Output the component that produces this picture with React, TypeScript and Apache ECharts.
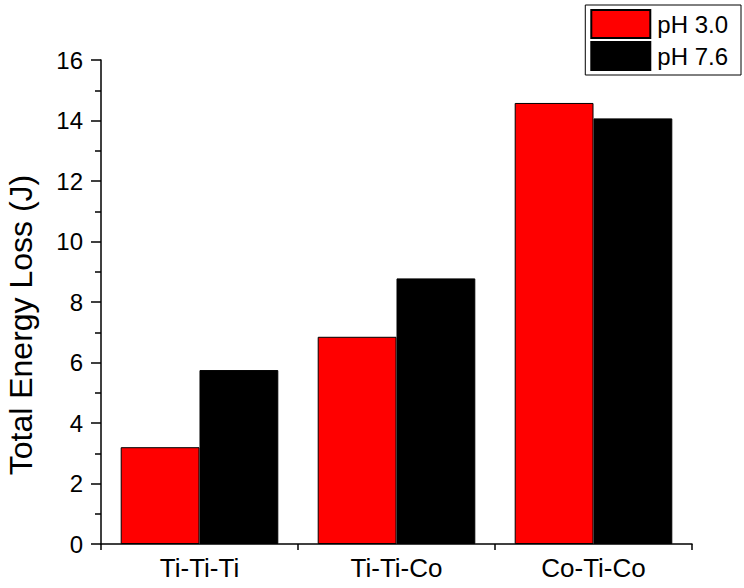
import React, { useEffect, useRef } from "react";
import * as echarts from "echarts";

const categories = ["Ti-Ti-Ti", "Ti-Ti-Co", "Co-Ti-Co"];
const seriesNames = ["pH 3.0", "pH 7.6"];
const ph30 = [3.2, 6.85, 14.58];
const ph76 = [5.75, 8.78, 14.07];
const yTicks = { min: 0, max: 16, interval: 2 };
const yTitle = "Total Energy Loss (J)";

const FONT = "'Liberation Sans', Arial, sans-serif";

export default function App() {
  const ref = useRef<HTMLDivElement>(null);
  useEffect(() => {
    if (!ref.current) return;
    const chart = echarts.init(ref.current, null, { renderer: "svg" });
    chart.setOption({
      animation: false,
      backgroundColor: "#ffffff",
      textStyle: { fontFamily: FONT },
      grid: { left: 101, right: 52, top: 60, bottom: 44, containLabel: false, outerBoundsMode: "none" },
      legend: {
        orient: "vertical",
        right: 3,
        top: 5,
        padding: [4, 13, 4, 5],
        itemGap: 2,
        itemWidth: 59,
        itemHeight: 28,
        borderColor: "#000",
        borderWidth: 1,
        icon: "rect",
        textStyle: { fontSize: 24, color: "#000", fontFamily: FONT, padding: [0, 0, 0, 2] },
        data: seriesNames,
      },
      xAxis: [
        {
          type: "category",
          data: categories,
          position: "bottom",
          axisLine: { lineStyle: { color: "#000", width: 1.5 } },
          axisTick: { alignWithLabel: true, length: 9, lineStyle: { color: "#000", width: 1.5 } },
          axisLabel: { fontSize: 26, color: "#000", margin: 11, fontFamily: FONT },
          splitLine: { show: false },
        },
        {
          type: "category",
          data: categories,
          position: "bottom",
          axisLine: { show: false },
          axisTick: { show: true, length: 6, lineStyle: { color: "#000", width: 1.5 } },
          axisLabel: { show: false },
          splitLine: { show: false },
        },
      ],
      yAxis: {
        type: "value",
        min: yTicks.min,
        max: yTicks.max,
        interval: yTicks.interval,
        name: yTitle,
        nameLocation: "middle",
        nameRotate: 90,
        nameGap: 64,
        nameTextStyle: { fontSize: 32, color: "#000", fontFamily: FONT, padding: [0, 46, 0, 0] },
        axisLine: { show: true, lineStyle: { color: "#000", width: 1.5 } },
        axisTick: { show: true, length: 10, lineStyle: { color: "#000", width: 1.5 } },
        minorTick: { show: true, splitNumber: 2, length: 6, lineStyle: { color: "#000", width: 1.5 } },
        axisLabel: { fontSize: 24, color: "#000", margin: 18, fontFamily: FONT },
        splitLine: { show: false },
      },
      series: [
        {
          name: seriesNames[0],
          type: "bar",
          data: ph30,
          barGap: "0%",
          barCategoryGap: "20%",
          itemStyle: { color: "#ff0000", borderColor: "#000", borderWidth: 1 },
        },
        {
          name: seriesNames[1],
          type: "bar",
          data: ph76,
          barGap: "0%",
          barCategoryGap: "20%",
          itemStyle: { color: "#000000", borderColor: "#000", borderWidth: 1 },
        },
      ],
    });
    return () => chart.dispose();
  }, []);
  return <div ref={ref} style={{ width: 744, height: 588, position: "absolute", left: 0, top: 0 }} />;
}
